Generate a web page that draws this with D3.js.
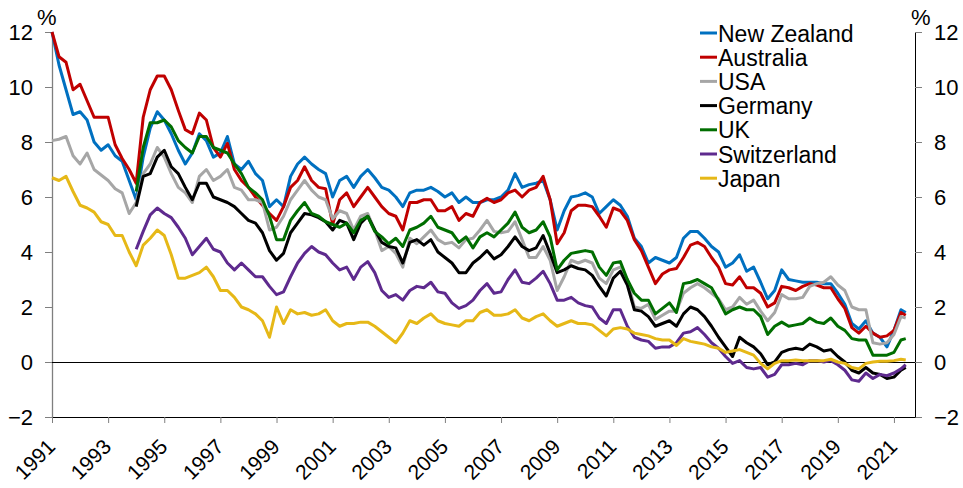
<!DOCTYPE html>
<html>
<head>
<meta charset="utf-8">
<script src="https://cdn.jsdelivr.net/npm/d3@7"></script>
<style>
  body { margin: 0; background: #fff; }
  svg text { font-family: Arial, "Liberation Sans", sans-serif; fill: #000; }
</style>
</head>
<body>
<svg id="chart" width="963" height="488"></svg>
<script>
// quarterly readings, 1991 Q1 .. 2021 Q2 (last point mid-May 2021)
var dates = d3.range(0, 122).map(i => 1991 + i / 4).concat([2021.42]);
var noData = Array(12).fill(null); // series that start in 1994

var newZealand = [
  12.0, 10.8, 9.9, 9.0,   9.1, 8.8, 8.0, 7.7,   7.9, 7.5, 7.3, 6.6,
  5.9, 7.45, 8.5, 9.1,   8.8, 8.3, 7.7, 7.2,   7.6, 8.3, 8.05, 7.45,
  7.6, 8.2, 7.2, 7.0,   7.3, 6.85, 6.6, 5.65,   5.9, 5.65, 6.75, 7.2,
  7.45, 7.2, 7.0, 6.85,   6.0, 6.6, 6.75, 6.35,   6.75, 7.0, 6.7, 6.35,
  6.25, 6.0, 5.65, 6.15,   6.25, 6.25, 6.35, 6.2,   6.0, 6.15, 5.8, 6.0,
  5.8, 5.8, 5.9, 5.9,   6.0, 6.25, 6.85, 6.35,   6.45, 6.5, 6.6, 5.9,
  4.8, 5.5, 6.0, 6.05,   6.15, 6.0, 5.4, 5.65,   5.9, 5.7, 5.3, 4.5,
  4.2, 3.6, 3.8, 3.7,   3.6, 3.8, 4.5, 4.75,   4.75, 4.5, 4.2, 4.0,
  3.45, 3.6, 3.9, 3.3,   3.45, 2.9, 2.3, 2.6,   3.35, 3.0, 2.95, 2.9,
  2.9, 2.9, 2.85, 2.85,   2.5, 2.1, 1.4, 1.2,   1.5, 1.05, 0.9, 0.55,
  1.15, 1.9, 1.8
];
var australia = [
  12.0, 11.1, 10.9, 9.9,   10.1, 9.5, 8.9, 8.9,   8.9, 7.9, 7.4, 7.0,
  6.5, 8.9, 9.9, 10.4,   10.4, 9.9, 9.15, 8.45,   8.3, 9.05, 8.8, 7.8,
  7.45, 7.95, 7.0, 6.6,   6.35, 6.0, 5.7, 5.4,   5.15, 5.65, 6.35, 6.6,
  7.1, 6.6, 6.35, 6.3,   5.0, 5.9, 6.15, 5.65,   6.0, 6.35, 6.0, 5.65,
  5.4, 5.3, 4.8, 5.8,   5.8, 5.9, 5.9, 5.5,   5.5, 5.65, 5.15, 5.4,
  5.3, 5.8, 5.95, 5.8,   5.9, 6.15, 6.25, 6.0,   6.25, 6.35, 6.75, 5.9,
  4.3, 4.7, 5.5, 5.7,   5.7, 5.65, 5.3, 4.9,   5.6, 5.5, 5.15, 4.45,
  4.05, 3.45, 2.85, 3.2,   3.35, 3.4, 3.8, 4.25,   4.35, 4.2, 3.8, 3.45,
  2.85, 2.8, 3.1, 2.7,   2.7, 2.5, 2.0, 2.15,   2.75, 2.7, 2.6, 2.75,
  2.85, 2.8, 2.7, 2.7,   2.3, 1.95, 1.25, 1.05,   1.3, 1.05, 0.9, 0.95,
  1.15, 1.8, 1.7
];
var usa = [
  8.05, 8.1, 8.2, 7.5,   7.2, 7.6, 7.0, 6.8,   6.6, 6.3, 6.15, 5.4,
  5.8, 6.85, 7.2, 7.8,   7.45, 6.85, 6.35, 6.15,   5.8, 6.75, 7.0, 6.6,
  6.75, 7.0, 6.35, 6.25,   5.9, 5.9, 5.8, 4.8,   4.9, 5.3, 5.9, 6.25,
  6.6, 6.25, 6.0, 5.9,   5.2, 5.5, 5.4, 4.8,   5.3, 5.4, 4.8, 4.05,
  4.2, 3.95, 3.45, 4.5,   4.3, 4.55, 4.8, 4.45,   4.3, 4.35, 4.15, 4.45,
  4.5, 4.8, 5.15, 4.75,   4.7, 4.75, 5.1, 4.45,   3.8, 3.8, 4.2, 3.7,
  2.6, 3.1, 3.7, 3.6,   3.7, 3.6, 3.05, 2.85,   3.35, 3.45, 3.0, 2.0,
  1.95, 2.1, 1.55, 1.7,   1.85, 1.85, 2.5, 2.7,   2.85, 2.7, 2.5, 2.3,
  1.9, 2.0, 2.35, 2.1,   2.25, 1.85, 1.5, 1.8,   2.45, 2.3, 2.3, 2.35,
  2.75, 2.85, 2.9, 3.1,   2.8, 2.6, 2.0, 1.9,   1.9, 0.7, 0.65, 0.7,
  1.0, 1.65, 1.6
];
var germany = noData.concat([
  5.65, 6.75, 6.85, 7.45,   7.7, 7.1, 6.85, 6.35,   5.9, 6.5, 6.5, 6.0,
  5.9, 5.8, 5.65, 5.4,   5.15, 5.05, 4.7, 4.05,   3.7, 3.95, 4.7, 5.05,
  5.4, 5.35, 5.25, 5.1,   4.8, 5.15, 5.05, 4.45,   5.05, 5.3, 4.8, 4.35,
  4.2, 4.15, 3.6, 4.35,   4.45, 4.25, 4.45, 4.0,   3.8, 3.6, 3.25, 3.25,
  3.6, 3.8, 4.05, 3.75,   3.9, 4.2, 4.55, 4.2,   4.05, 4.15, 4.6, 3.95,
  3.25, 3.35, 3.5, 3.4,   3.35, 3.15, 2.75, 2.4,   3.05, 3.3, 2.8, 1.9,
  1.85, 1.65, 1.3, 1.4,   1.5, 1.3, 1.75, 2.0,   1.9, 1.65, 1.3, 0.9,
  0.55, 0.2, 0.9, 0.7,   0.55, 0.3, -0.1, 0.0,   0.35, 0.45, 0.5, 0.45,
  0.65, 0.55, 0.4, 0.45,   0.2, 0.0, -0.3, -0.4,   -0.2, -0.4, -0.45, -0.6,
  -0.55, -0.3, -0.2
]);
var uk = noData.concat([
  6.2, 7.8, 8.7, 8.7,   8.8, 8.55, 8.05, 7.8,   7.6, 8.2, 8.2, 7.8,
  7.7, 7.6, 7.2, 6.85,   6.35, 6.15, 5.9, 5.3,   4.45, 4.45, 5.15, 5.5,
  5.8, 5.4, 5.3, 5.1,   5.0, 4.9, 5.05, 4.7,   5.15, 5.3, 4.75, 4.55,
  4.3, 4.5, 4.2, 4.8,   4.9, 5.05, 5.3, 4.9,   4.8, 4.7, 4.35, 4.55,
  4.15, 4.55, 4.7, 4.55,   4.8, 5.05, 5.45, 4.9,   4.7, 4.8, 5.1, 4.55,
  3.35, 3.7, 3.95, 4.0,   4.05, 4.0, 3.45, 3.15,   3.6, 3.65, 3.0, 2.5,
  2.25, 2.25, 1.75, 1.95,   2.15, 1.8, 2.85, 2.9,   3.0, 2.85, 2.7, 2.25,
  1.75, 1.9, 2.0, 1.9,   1.9, 1.65, 1.0, 1.3,   1.45, 1.3, 1.35, 1.4,
  1.6, 1.45, 1.4, 1.6,   1.3, 1.15, 0.85, 0.8,   0.8, 0.25, 0.25, 0.25,
  0.35, 0.8, 0.85
]);
var switzerland = noData.concat([
  4.1, 4.75, 5.35, 5.6,   5.4, 5.25, 4.9, 4.5,   3.9, 4.2, 4.5, 4.1,
  4.0, 3.6, 3.35, 3.6,   3.35, 3.1, 3.1, 2.75,   2.45, 2.55, 3.1, 3.6,
  3.95, 4.2, 4.0, 3.9,   3.6, 3.35, 3.45, 3.0,   3.45, 3.65, 3.25, 2.6,
  2.35, 2.45, 2.25, 2.6,   2.75, 2.7, 2.9, 2.55,   2.5, 2.15, 1.95, 2.05,
  2.25, 2.6, 2.85, 2.5,   2.55, 3.0, 3.35, 2.9,   2.85, 3.05, 3.3, 2.85,
  2.25, 2.25, 2.35, 2.15,   2.05, 2.0, 1.6, 1.4,   1.9, 1.9, 1.3, 0.9,
  0.8, 0.75, 0.5, 0.55,   0.55, 0.7, 1.05, 1.1,   1.25, 1.0, 0.7, 0.5,
  0.2, -0.05, 0.05, -0.2,   -0.25, -0.2, -0.55, -0.45,   -0.1, -0.1, -0.05, -0.1,
  0.05, 0.05, 0.0, 0.05,   -0.1, -0.3, -0.65, -0.7,   -0.4, -0.6, -0.45, -0.5,
  -0.4, -0.25, -0.1
]);
var japan = [
  6.7, 6.6, 6.75, 6.2,   5.7, 5.6, 5.45, 5.1,   5.0, 4.6, 4.6, 4.0,
  3.5, 4.25, 4.5, 4.8,   4.6, 3.9, 3.05, 3.05,   3.15, 3.25, 3.45, 3.1,
  2.6, 2.6, 2.35, 2.0,   1.9, 1.75, 1.5, 0.9,   2.0, 1.4, 1.9, 1.75,
  1.8, 1.7, 1.75, 1.9,   1.5, 1.3, 1.4, 1.4,   1.45, 1.45, 1.3, 1.1,
  0.9, 0.7, 1.05, 1.5,   1.4, 1.6, 1.75, 1.5,   1.4, 1.35, 1.3, 1.5,
  1.5, 1.8, 1.9, 1.7,   1.7, 1.75, 1.9, 1.6,   1.5, 1.65, 1.75, 1.5,
  1.3, 1.4, 1.5, 1.4,   1.4, 1.35, 1.15, 0.95,   1.2, 1.25, 1.2, 1.05,
  1.0, 0.95, 0.85, 0.8,   0.8, 0.6, 0.85, 0.75,   0.7, 0.65, 0.55, 0.5,
  0.35, 0.4, 0.45, 0.35,   0.25, -0.05, -0.25, -0.05,   0.05, 0.05, 0.07, 0.05,
  0.05, 0.05, 0.05, 0.1,   0.0, -0.05, -0.2, -0.25,   -0.05, 0.0, 0.03, 0.03,
  0.05, 0.1, 0.07
];

var names = ["New Zealand", "Australia", "USA", "Germany", "UK", "Switzerland", "Japan"];
var seriesValues = [newZealand, australia, usa, germany, uk, switzerland, japan];
var colors = ["#0070C0", "#C00000", "#A6A6A6", "#000000", "#006E00", "#5E2A8E", "#E6B817"];
var yTicks = [-2, 0, 2, 4, 6, 8, 10, 12];
var xTicks = d3.range(1991, 2022, 2);

var width = 963;
var height = 488;
var margin = { top: 32, right: 48, bottom: 71, left: 52 };

var svg = d3.select("#chart");

var xScale = d3.scaleLinear()
    .domain([1991, 2021.75])
    .range([margin.left, width - margin.right]);

var yScale = d3.scaleLinear()
    .domain([-2, 12])
    .range([height - margin.bottom, margin.top]);

// left axis (grey)
var left = svg.append("g")
    .attr("transform", `translate(${margin.left},0)`)
    .call(d3.axisLeft(yScale).tickValues(yTicks).tickSize(7).tickPadding(12).tickSizeOuter(0));
left.select(".domain").attr("stroke", "#7f7f7f").attr("stroke-width", 1.3);
left.selectAll(".tick line").attr("stroke", "#7f7f7f");
left.selectAll("text").style("font-size", "22px");

// right axis
var right = svg.append("g")
    .attr("transform", `translate(${width - margin.right},0)`)
    .call(d3.axisRight(yScale).tickValues(yTicks).tickSize(7).tickPadding(12).tickSizeOuter(0));
right.select(".domain").attr("stroke", "#000");
right.selectAll(".tick line").attr("stroke", "#7f7f7f");
right.selectAll("text").style("font-size", "22px");

// bottom axis
var bottom = svg.append("g")
    .attr("transform", `translate(0,${yScale(-2)})`)
    .call(d3.axisBottom(xScale).tickValues(xTicks).tickFormat(d3.format("d")).tickSize(6).tickSizeOuter(0));
bottom.select(".domain").attr("stroke", "#000").attr("stroke-width", 1.2);
bottom.selectAll(".tick line").attr("stroke", "#7f7f7f");
bottom.selectAll("text")
    .attr("x", 0)
    .attr("y", 0)
    .attr("dy", null)
    .attr("text-anchor", "end")
    .attr("transform", "translate(4,31) rotate(-45)")
    .style("font-size", "21px");

// zero line
svg.append("line")
    .attr("x1", margin.left)
    .attr("x2", width - margin.right)
    .attr("y1", yScale(0) + 0.5)
    .attr("y2", yScale(0) + 0.5)
    .attr("stroke", "#000")
    .attr("stroke-width", 1);

// % labels
svg.append("text").attr("x", 37).attr("y", 25).style("font-size", "22px").text("%");
svg.append("text").attr("x", 911).attr("y", 25).style("font-size", "22px").text("%");

// lines
var line = d3.line()
    .defined(d => d[1] != null)
    .x(d => xScale(d[0]))
    .y(d => yScale(d[1]));

names.forEach((name, i) => {
    var pts = dates.map((d, j) => [d, seriesValues[i][j]]);
    svg.append("path")
        .datum(pts)
        .attr("fill", "none")
        .attr("stroke", colors[i])
        .attr("stroke-width", 3)
        .attr("stroke-linejoin", "round")
        .attr("d", line);
});

// legend
var legend = svg.append("g");
names.forEach((name, i) => {
    var y = 33 + i * 24.2;
    legend.append("line")
        .attr("x1", 700).attr("x2", 717)
        .attr("y1", y).attr("y2", y)
        .attr("stroke", colors[i])
        .attr("stroke-width", 3);
    legend.append("text")
        .attr("x", 718)
        .attr("y", y + 8.5)
        .style("font-size", "23px")
        .text(name);
});
</script>
</body>
</html>
